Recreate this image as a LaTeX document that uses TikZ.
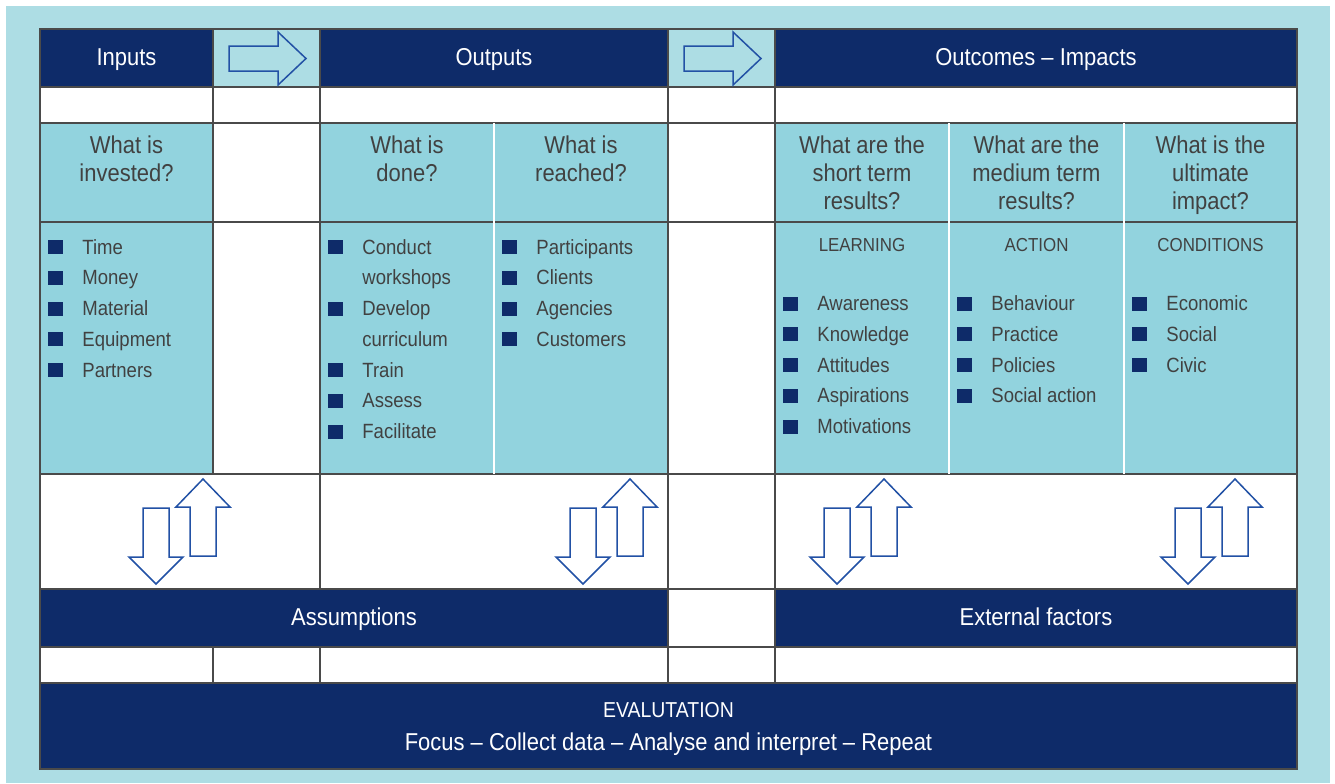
\documentclass[tikz,border=0pt]{standalone}
\usepackage{fontspec}
\setmainfont{Liberation Sans}[FakeStretch=0.9]
\usepackage{tikz}

\definecolor{navy}{HTML}{0E2B69}
\definecolor{bgblue}{HTML}{ADDDE4}
\definecolor{cellblue}{HTML}{92D3DE}
\definecolor{arrowblue}{HTML}{2251A5}
\definecolor{txtgray}{HTML}{414141}
\definecolor{gridgray}{HTML}{4A4A4A}

\begin{document}
\begin{tikzpicture}[x=0.5pt,y=-0.5pt,
     hdtext/.style={text=white,inner sep=0pt,anchor=base,font=\fontsize{12.2}{14.2}\selectfont},
     qtext/.style={text=txtgray,inner sep=0pt,anchor=north,align=center,font=\fontsize{12.2}{14.15}\selectfont},
     itemtext/.style={text=txtgray,inner sep=0pt,anchor=base west,font=\fontsize{10.3}{12}\selectfont},
     cattext/.style={text=txtgray,inner sep=0pt,anchor=base,font=\fontsize{9.4}{11}\selectfont},
     blockarrow/.style={draw=arrowblue,line width=0.75pt,line join=miter},
     gridline/.style={draw=gridgray,line width=0.6pt},
     sepline/.style={draw=white,line width=1.1pt}]
     \useasboundingbox (0,0) rectangle (1335,783);
     \fill[bgblue] (6,6) rectangle (1330,783);

     %底色
     \fill[white] (40,29) rectangle (1297,769);
     \foreach \xa/\xb in {40/213,320/668,775/1297}
     	\fill[cellblue] (\xa,123) rectangle (\xb,474);
     \foreach \xa/\ya/\xb/\yb in {40/29/213/87,320/29/668/87,775/29/1297/87,
     	40/589/668/647,775/589/1297/647,40/683/1297/769}
     	\fill[navy] (\xa,\ya) rectangle (\xb,\yb);
     \foreach \xa in {213,668}
     	\fill[bgblue] (\xa,29) rectangle (\xa+107,87);

     %表格线
     \foreach \y in {87,123,222,474,589,647,683}
     	\draw[gridline] (40,\y) -- (1297,\y);
     \draw[gridline] (213,29) -- (213,474) (213,647) -- (213,683);
     \draw[gridline] (320,29) -- (320,589) (320,647) -- (320,683);
     \foreach \x in {668,775}
     	\draw[gridline] (\x,29) -- (\x,683);
     \foreach \x in {494,949,1124}
     	\draw[sepline] (\x,123) -- (\x,474);
     \draw[gridline] (40,29) rectangle (1297,769);

     %箭头
     \foreach \ax in {0,455}
     	\draw[blockarrow] (229+\ax,46) -- (278+\ax,46) -- (278+\ax,32) -- (306+\ax,58.5)
     	-- (278+\ax,85) -- (278+\ax,71) -- (229+\ax,71) -- cycle;
     \foreach \cx in {156,583,837,1188} {
     	\draw[blockarrow] (\cx-13,508) -- (\cx+13,508) -- (\cx+13,557) -- (\cx+27,557)
     	-- (\cx,584) -- (\cx-27,557) -- (\cx-13,557) -- cycle;
     	\draw[blockarrow] (\cx+34,556) -- (\cx+60,556) -- (\cx+60,507) -- (\cx+74,507)
     	-- (\cx+47,479) -- (\cx+20,507) -- (\cx+34,507) -- cycle;
     }

     \node[hdtext] (inputs) at (126.5,65) {Inputs};
     \node[hdtext] (outputs) at (494,65) {Outputs};
     \node[hdtext] (outcomes) at (1036,65) {Outcomes -- Impacts};

     \node[qtext] (invested) at (126.5,135) {What is\\invested?};
     \node[qtext] (done) at (407,135) {What is\\done?};
     \node[qtext] (reached) at (581,135) {What is\\reached?};
     \node[qtext] (short) at (862,135) {What are the\\short term\\results?};
     \node[qtext] (medium) at (1036.5,135) {What are the\\medium term\\results?};
     \node[qtext] (impact) at (1210.5,135) {What is the\\ultimate\\impact?};

     \node[cattext] (learning) at (862,251.5) {LEARNING};
     \node[cattext] (action) at (1036.5,251.5) {ACTION};
     \node[cattext] (conditions) at (1210.5,251.5) {CONDITIONS};

     %列表
     \foreach \t [count=\i from 0] in {Time,Money,Material,Equipment,Partners} {
     	\fill[navy] (48,254+30.75*\i) rectangle ++(15,-14);
     	\node[itemtext] (in\i) at (82,254+30.75*\i) {\t};
     }
     \foreach \t/\b [count=\i from 0] in {Conduct/1,workshops/0,Develop/1,curriculum/0,
     	Train/1,Assess/1,Facilitate/1} {
     	\ifnum\b=1 \fill[navy] (328,254+30.75*\i) rectangle ++(15,-14); \fi
     	\node[itemtext] (do\i) at (362,254+30.75*\i) {\t};
     }
     \foreach \t [count=\i from 0] in {Participants,Clients,Agencies,Customers} {
     	\fill[navy] (502,254+30.75*\i) rectangle ++(15,-14);
     	\node[itemtext] (re\i) at (536,254+30.75*\i) {\t};
     }
     \foreach \t [count=\i from 0] in {Awareness,Knowledge,Attitudes,Aspirations,Motivations} {
     	\fill[navy] (783,310.5+30.75*\i) rectangle ++(15,-14);
     	\node[itemtext] (le\i) at (817,310.5+30.75*\i) {\t};
     }
     \foreach \t [count=\i from 0] in {Behaviour,Practice,Policies,Social action} {
     	\fill[navy] (957,310.5+30.75*\i) rectangle ++(15,-14);
     	\node[itemtext] (ac\i) at (991,310.5+30.75*\i) {\t};
     }
     \foreach \t [count=\i from 0] in {Economic,Social,Civic} {
     	\fill[navy] (1132,310.5+30.75*\i) rectangle ++(15,-14);
     	\node[itemtext] (co\i) at (1166,310.5+30.75*\i) {\t};
     }

     \node[hdtext] (assumptions) at (354,625) {Assumptions};
     \node[hdtext] (external) at (1036,625) {External factors};
     \node[hdtext,font=\fontsize{10.8}{12}\selectfont] (evaltitle) at (668.5,717.7) {EVALUTATION};
     \node[hdtext] (evalsteps) at (668.5,750) {Focus -- Collect data -- Analyse and interpret -- Repeat};
\end{tikzpicture}
\end{document}
